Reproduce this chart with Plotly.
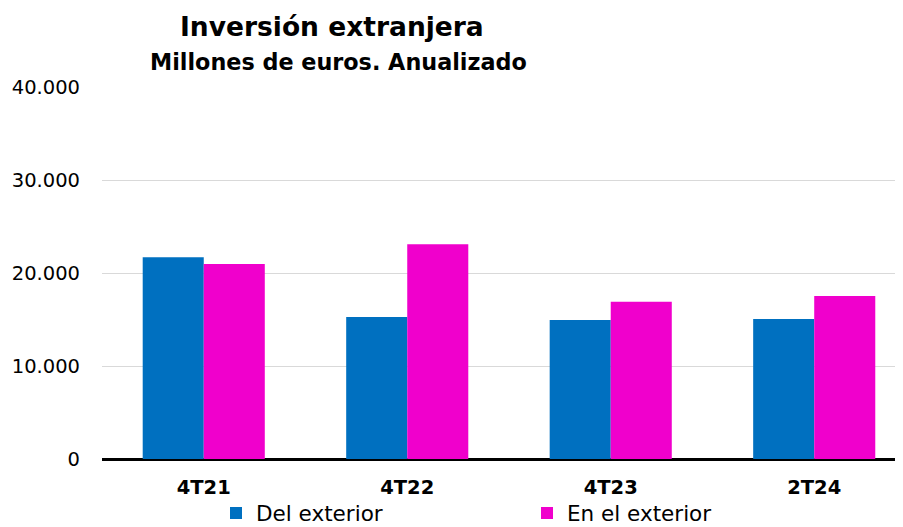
import plotly.graph_objects as go

categories = ["4T21", "4T22", "4T23", "2T24"]
del_exterior = [21700, 15270, 14950, 15050]
en_exterior = [20970, 23090, 16920, 17530]
y_ticks = [0, 10000, 20000, 30000, 40000]
y_tick_labels = ["0", "10.000", "20.000", "30.000", "40.000"]

FONT = "DejaVu Sans"
OFF = 8  # default page body margin
W, H = 903 - OFF, 527 - OFF
L, T = 102 - OFF, 87 - OFF
R = 0
B = H - T - 372
plot_w = W - L - R
plot_h = H - T - B

def px_x(px):
    return (px - OFF - L) / plot_w

def px_y(py):
    return (H - B - (py - OFF)) / plot_h

fig = go.Figure()
fig.add_trace(go.Bar(x=categories, y=del_exterior, name="Del exterior",
                     marker=dict(color="#0070C0", line=dict(width=0))))
fig.add_trace(go.Bar(x=categories, y=en_exterior, name="En el exterior",
                     marker=dict(color="#F000CC", line=dict(width=0))))

fig.update_layout(
    width=W, height=H,
    margin=dict(l=L, r=R, t=T, b=B, autoexpand=False),
    paper_bgcolor="white", plot_bgcolor="white",
    barmode="group", bargap=0.4, bargroupgap=0,
    font=dict(family=FONT, color="black"),
    showlegend=True,
    legend=dict(orientation="h", x=px_x(216), xanchor="left", y=px_y(513), yanchor="middle",
                font=dict(size=21.5, family=FONT), entrywidth=266, entrywidthmode="pixels",
                itemsizing="constant", bgcolor="rgba(0,0,0,0)"),
    annotations=[
        dict(text="<b>Inversión extranjera</b>", x=px_x(332), y=px_y(27),
             xref="paper", yref="paper", xanchor="center", yanchor="middle",
             showarrow=False, font=dict(size=26.5, family=FONT)),
        dict(text="<b>Millones de euros. Anualizado</b>", x=px_x(338), y=px_y(62),
             xref="paper", yref="paper", xanchor="center", yanchor="middle",
             showarrow=False, font=dict(size=22.3, family=FONT)),
    ],
)

fig.update_xaxes(range=[-0.5, 3.5 - 13 / 204], showgrid=False, ticks="",
                 tickfont=dict(size=19.5, family=FONT),
                 tickvals=list(range(len(categories))),
                 ticktext=["<b>%s</b>" % c for c in categories],
                 ticklabelstandoff=14, showline=False)
fig.update_yaxes(range=[0, 40000], tickvals=y_ticks, ticktext=y_tick_labels,
                 showgrid=True, gridcolor="#D9D9D9", gridwidth=1,
                 zeroline=True, zerolinecolor="black", zerolinewidth=3,
                 tickfont=dict(size=19.5, family=FONT), ticks="", ticklabelstandoff=21,
                 showline=False)

fig.write_html("out.html")
